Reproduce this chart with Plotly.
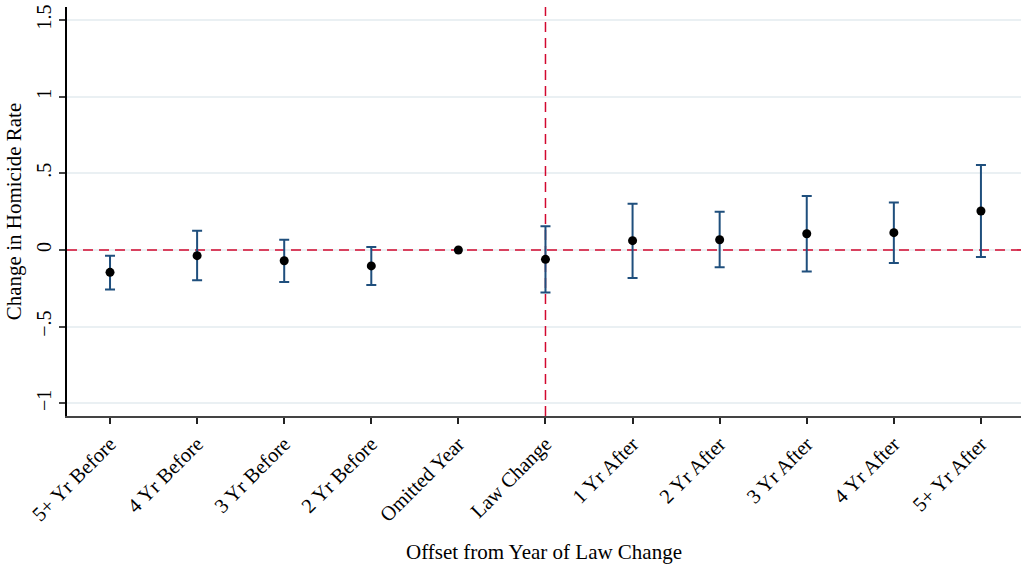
import plotly.graph_objects as go

# Event-study estimates: change in homicide rate relative to the omitted year
categories = ["5+ Yr Before", "4 Yr Before", "3 Yr Before", "2 Yr Before",
              "Omitted Year", "Law Change", "1 Yr After", "2 Yr After",
              "3 Yr After", "4 Yr After", "5+ Yr After"]
estimates = [-0.146, -0.037, -0.070, -0.104, 0.000, -0.061,
             0.061, 0.067, 0.106, 0.113, 0.254]
ci_low = [-0.257, -0.198, -0.209, -0.228, None, -0.278,
          -0.183, -0.113, -0.141, -0.085, -0.046]
ci_high = [-0.037, 0.126, 0.067, 0.020, None, 0.155,
           0.302, 0.250, 0.352, 0.309, 0.554]

y_tickvals = [-1, -0.5, 0, 0.5, 1, 1.5]
y_ticktext = ["\u22121", "\u2212.5", "0", ".5", "1", "1.5"]

FONT = "Liberation Serif, Times New Roman, serif"
RED = "#d2082f"
NAVY = "#1f4f7d"
X_RANGE = [-0.494, 10.46]
Y_RANGE = [-1.083, 1.585]

x_idx = list(range(len(categories)))
plus = [(h - e) if h is not None else 0 for h, e in zip(ci_high, estimates)]
minus = [(e - l) if l is not None else 0 for l, e in zip(ci_low, estimates)]

fig = go.Figure()

# reference lines: zero effect and the year of the law change
law_idx = categories.index("Law Change")
fig.add_trace(go.Scatter(
    x=X_RANGE, y=[0, 0], mode="lines",
    line=dict(color=RED, width=1.7, dash="10px,6px"),
    showlegend=False, hoverinfo="skip",
))
fig.add_trace(go.Scatter(
    x=[law_idx, law_idx], y=Y_RANGE, mode="lines",
    line=dict(color=RED, width=1.5, dash="10px,6px"),
    showlegend=False, hoverinfo="skip",
))

# confidence intervals (skipping the omitted reference year)
ci_x = [i for i, l in zip(x_idx, ci_low) if l is not None]
fig.add_trace(go.Scatter(
    x=ci_x,
    y=[estimates[i] for i in ci_x],
    mode="markers",
    marker=dict(size=1, color="rgba(0,0,0,0)"),
    error_y=dict(type="data", symmetric=False,
                 array=[plus[i] for i in ci_x],
                 arrayminus=[minus[i] for i in ci_x],
                 color=NAVY, thickness=2, width=5),
    showlegend=False, hoverinfo="skip",
))

# point estimates
fig.add_trace(go.Scatter(
    x=x_idx, y=estimates, mode="markers",
    marker=dict(size=9, color="black"),
    showlegend=False,
))

fig.update_layout(
    width=1021, height=567,
    margin=dict(l=67, r=0, t=7, b=151),
    paper_bgcolor="white", plot_bgcolor="white",
    font=dict(family=FONT, size=21, color="black"),
)

fig.update_xaxes(
    tickmode="array", tickvals=x_idx, ticktext=categories,
    tickangle=-45, range=X_RANGE,
    showgrid=False, zeroline=False,
    showline=True, linecolor="#444", linewidth=2,
    ticks="outside", ticklen=6, tickcolor="#222", tickwidth=1.5,
    tickfont=dict(family=FONT, size=20.5),
    title=dict(text="Offset from Year of Law Change",
               font=dict(family=FONT, size=21), standoff=20),
)

fig.update_yaxes(
    tickmode="array", tickvals=y_tickvals, ticktext=y_ticktext,
    tickangle=-90, range=Y_RANGE,
    showgrid=True, gridcolor="#eaf0f3", gridwidth=2,
    zeroline=False,
    showline=True, linecolor="black", linewidth=1.5,
    ticks="outside", ticklen=6, tickcolor="#444", tickwidth=1.5,
    tickfont=dict(family=FONT, size=20),
    title=dict(text="Change in Homicide Rate",
               font=dict(family=FONT, size=21), standoff=6),
)

fig.write_html("out.html")
